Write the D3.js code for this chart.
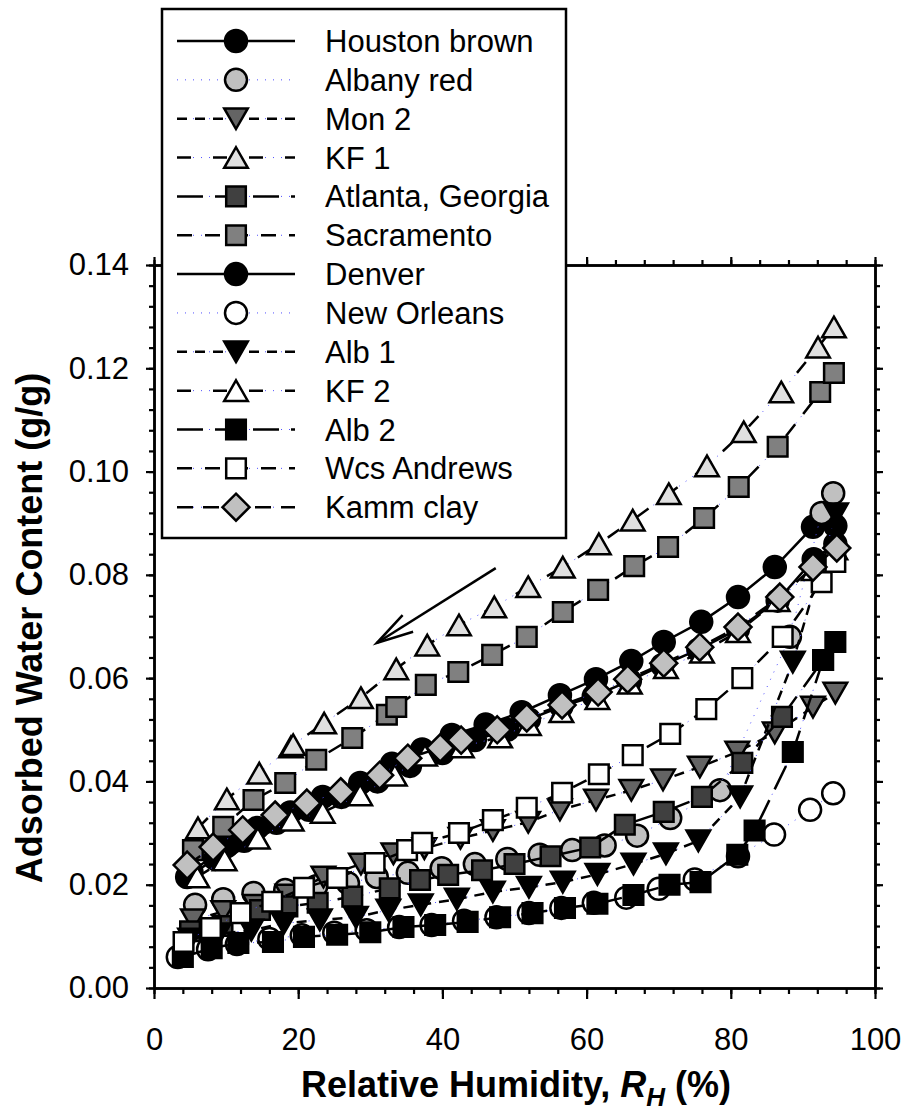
<!DOCTYPE html>
<html><head><meta charset="utf-8">
<script src="https://cdn.jsdelivr.net/npm/d3@7"></script>
<style>body{margin:0;background:#fff}svg{display:block}text{font-family:"Liberation Sans",Arial,sans-serif;fill:#000}</style>
</head><body><svg id="c" width="906" height="1120"></svg>
<script>
// ---------------- data ----------------
const seriesNames = ["Houston brown","Albany red","Mon 2","KF 1","Atlanta, Georgia","Sacramento","Denver","New Orleans","Alb 1","KF 2","Alb 2","Wcs Andrews","Kamm clay"];
const houstonBrown = [[5.2,0.0225],[10.1,0.0275],[14.3,0.031],[18.9,0.034],[23.4,0.037],[28.6,0.0397],[33.0,0.0434],[37.2,0.0462],[41.3,0.049],[46.0,0.051],[51.0,0.0534],[56.3,0.0567],[61.3,0.0598],[66.2,0.0633],[70.7,0.0670],[75.9,0.0709],[81.0,0.0757],[86.1,0.0815],[91.4,0.0893],[94.5,0.0895]];
const albanyRed = [[5.7,0.0161],[9.6,0.0172],[13.8,0.0184],[18.2,0.019],[22.5,0.0197],[26.9,0.0203],[30.9,0.0215],[35.2,0.0223],[39.9,0.0232],[44.5,0.024],[49.0,0.025],[53.5,0.0258],[58.0,0.0267],[62.5,0.0276],[67.0,0.0295],[71.6,0.0329],[78.5,0.0383],[88.2,0.068],[92.6,0.092],[94.2,0.0958]];
const mon2 = [[5.4,0.0132],[9.6,0.0148],[14.0,0.016],[18.5,0.018],[23.5,0.0215],[28.7,0.024],[33.2,0.026],[37.5,0.027],[42.5,0.029],[47.0,0.0305],[51.9,0.0321],[56.3,0.0345],[61.3,0.0364],[66.2,0.0383],[70.6,0.0403],[75.7,0.0428],[80.9,0.0457],[86.1,0.0494],[91.4,0.0544],[94.5,0.0571]];
const kf1 = [[6.1,0.031],[10.1,0.0366],[14.6,0.0416],[19.0,0.0467],[19.3,0.0471],[23.6,0.0513],[28.7,0.0562],[33.6,0.0618],[37.9,0.0664],[42.3,0.0703],[47.2,0.0738],[51.9,0.0777],[56.7,0.0815],[61.7,0.086],[66.4,0.0906],[71.4,0.0957],[76.7,0.1011],[81.8,0.1077],[87.0,0.1154],[92.1,0.1241],[94.3,0.128]];
const atlanta = [[5.0,0.011],[9.5,0.012],[14.7,0.0151],[18.5,0.0158],[22.7,0.0165],[27.5,0.0177],[32.7,0.0193],[36.9,0.0209],[40.8,0.0219],[45.5,0.0228],[50.0,0.024],[55.0,0.0255],[60.5,0.0272],[65.3,0.0316],[70.7,0.0341],[76.0,0.037],[81.6,0.0436],[87.1,0.0525],[92.8,0.0635]];
const sacramento = [[5.4,0.0267],[9.6,0.0312],[13.8,0.0364],[18.2,0.0397],[22.5,0.0442],[27.5,0.0484],[32.3,0.0529],[33.6,0.0544],[37.7,0.0587],[42.2,0.0612],[46.9,0.0645],[51.7,0.068],[56.7,0.0728],[61.6,0.0771],[66.6,0.0817],[71.3,0.0854],[76.3,0.091],[81.1,0.097],[86.5,0.1048],[92.4,0.1154],[94.3,0.1191]];
const denver = [[4.6,0.0215],[8.5,0.025],[12.5,0.0285],[17.0,0.032],[21.5,0.0345],[26.0,0.037],[31.0,0.040],[35.5,0.043],[40.0,0.0455],[44.5,0.048],[49.0,0.050],[52.0,0.052],[56.5,0.0545],[61.0,0.0565],[66.0,0.0595],[70.5,0.0625],[75.5,0.0655],[81.0,0.0695],[86.5,0.075],[91.5,0.083],[94.5,0.086]];
const newOrleans = [[3.3,0.006],[7.5,0.0075],[11.5,0.0085],[16.0,0.0095],[20.5,0.0102],[25.0,0.0107],[29.5,0.0112],[34.0,0.0118],[38.5,0.0122],[43.0,0.013],[47.5,0.0137],[52.0,0.0145],[56.5,0.0155],[61.0,0.0165],[65.5,0.0175],[70.0,0.0192],[75.0,0.021],[81.0,0.0255],[86.0,0.0297],[91.0,0.0345],[94.2,0.0377]];
const alb1 = [[5.0,0.0095],[9.0,0.0105],[13.5,0.0112],[18.0,0.0125],[23.0,0.0132],[28.0,0.0137],[32.5,0.0151],[37.0,0.0161],[42.0,0.0172],[47.0,0.0186],[52.0,0.0195],[56.7,0.0205],[61.5,0.022],[66.5,0.024],[71.0,0.026],[75.5,0.0285],[81.3,0.037],[88.6,0.0631],[94.6,0.0918]];
const kf2 = [[6.0,0.0215],[9.8,0.0248],[14.4,0.029],[19.1,0.0325],[23.4,0.034],[28.6,0.0374],[33.4,0.0412],[37.6,0.0451],[42.7,0.0467],[48.0,0.0486],[52.0,0.051],[56.5,0.0535],[61.5,0.056],[66.0,0.059],[71.0,0.062],[76.0,0.065],[81.0,0.069],[86.5,0.075],[91.5,0.081],[94.5,0.085]];
const alb2 = [[4.0,0.006],[8.0,0.0077],[11.7,0.0087],[16.5,0.0089],[20.8,0.0099],[25.4,0.0103],[30.0,0.0108],[34.6,0.0118],[39.0,0.0122],[43.5,0.0128],[48.0,0.0137],[52.5,0.0145],[57.0,0.0155],[61.5,0.0163],[66.5,0.018],[71.5,0.02],[75.8,0.0205],[80.9,0.0258],[83.3,0.0305],[88.6,0.0457],[92.8,0.0635],[94.5,0.067]];
const wcsAndrews = [[4.1,0.0089],[7.9,0.0116],[12.0,0.0145],[16.4,0.0167],[20.8,0.0194],[25.4,0.0213],[30.6,0.0242],[35.1,0.0267],[37.2,0.0281],[42.3,0.030],[47.0,0.0325],[51.7,0.0349],[56.6,0.0378],[61.7,0.0414],[66.4,0.0451],[71.6,0.0492],[76.6,0.054],[81.6,0.06],[87.2,0.068],[92.6,0.0786],[94.5,0.0825]];
const kammClay = [[4.6,0.0238],[8.2,0.0273],[12.3,0.0306],[16.8,0.0335],[21.2,0.0358],[25.9,0.038],[31.3,0.0412],[35.2,0.0445],[39.7,0.0465],[42.6,0.048],[47.6,0.05],[51.7,0.0523],[56.6,0.0548],[61.6,0.0573],[65.7,0.0598],[70.7,0.0629],[75.7,0.066],[81.0,0.0699],[86.8,0.0757],[91.4,0.0815],[94.7,0.0852]];
const xTicks = [0,20,40,60,80,100];
const yTicks = [0,0.02,0.04,0.06,0.08,0.10,0.12,0.14];
const arrowFrom = [47.4,0.0813];
const arrowTo = [30.9,0.0668];

const seriesData = [houstonBrown,albanyRed,mon2,kf1,atlanta,sacramento,denver,newOrleans,alb1,kf2,alb2,wcsAndrews,kammClay];

// ---------------- styles ----------------
const styles = [
 {shape:"circle",fill:"#000000",dash:null,dots:false},
 {shape:"circle",fill:"#c0c0c0",dash:"none",dots:true},
 {shape:"down",fill:"#646464",dash:"10,8",dots:true},
 {shape:"up",fill:"#e0e0e0",dash:"14,22",dots:true},
 {shape:"square",fill:"#404040",dash:"26,12",dots:true},
 {shape:"square",fill:"#808080",dash:"15,13",dots:true},
 {shape:"circle",fill:"#000000",dash:null,dots:false},
 {shape:"circle",fill:"#ffffff",dash:"none",dots:true},
 {shape:"down",fill:"#000000",dash:"10,8",dots:true},
 {shape:"up",fill:"#ffffff",dash:"14,22",dots:true},
 {shape:"square",fill:"#000000",dash:"26,12",dots:true},
 {shape:"square",fill:"#ffffff",dash:"15,13",dots:true},
 {shape:"diamond",fill:"#c0c0c0",dash:"16,10",dots:true}
];

function shapePath(s){
  switch(s){
    case "circle": return d3.symbol().type(d3.symbolCircle).size(Math.PI*11*11)();
    case "square": { const h=9.8; return `M${-h},${-h}H${h}V${h}H${-h}Z`; }
    case "up": { const w=11.8,h=10.3; return `M0,${-h}L${w},${h}L${-w},${h}Z`; }
    case "down": { const w=11.8,h=10.3; return `M0,${h}L${w},${-h}L${-w},${-h}Z`; }
    case "diamond": { const r=13.5; return `M0,${-r}L${r},0L0,${r}L${-r},0Z`; }
  }
}

const x = d3.scaleLinear().domain([0,100]).range([154,875]);
const y = d3.scaleLinear().domain([0,0.14]).range([988,265]);
const svg = d3.select("#c");
svg.append("rect").attr("width",906).attr("height",1120).attr("fill","#fff");

// ---------------- axes / frame ----------------
const minorX = d3.range(0,100.001,4);
const minorY = d3.range(0,0.14001,0.004);
function styleAxis(g){
  g.selectAll("path.domain").attr("stroke","#000").attr("stroke-width",2.5);
  g.selectAll(".tick line").attr("stroke","#000").attr("stroke-width",2.2);
}
const gAx = svg.append("g");
gAx.append("g").attr("transform","translate(0,988)")
  .call(d3.axisBottom(x).tickValues(minorX).tickSize(6).tickSizeOuter(0).tickFormat(""))
  .call(styleAxis);
gAx.append("g").attr("transform","translate(0,988)")
  .call(d3.axisBottom(x).tickValues(xTicks).tickSize(11).tickSizeOuter(0).tickPadding(29).tickFormat(d3.format("d")))
  .call(styleAxis)
  .call(g=>g.selectAll("text").attr("font-size",31).attr("font-family","Liberation Sans, Arial, sans-serif").attr("dy","0.71em"));
gAx.append("g").attr("transform","translate(875,0)")
  .call(d3.axisRight(y).tickValues(minorY).tickSize(5).tickSizeOuter(0).tickFormat(""))
  .call(styleAxis);
gAx.append("g").attr("transform","translate(875,0)")
  .call(d3.axisRight(y).tickValues(yTicks).tickSize(8).tickSizeOuter(0).tickFormat(""))
  .call(styleAxis);
gAx.append("g").attr("transform","translate(0,265)")
  .call(d3.axisTop(x).tickValues(minorX).tickSize(5).tickSizeOuter(0).tickFormat(""))
  .call(styleAxis);
gAx.append("g").attr("transform","translate(0,265)")
  .call(d3.axisTop(x).tickValues(xTicks).tickSize(8).tickSizeOuter(0).tickFormat(""))
  .call(styleAxis);
gAx.append("g").attr("transform","translate(154,0)")
  .call(d3.axisLeft(y).tickValues(minorY).tickSize(5).tickSizeOuter(0).tickFormat(""))
  .call(styleAxis);
gAx.append("g").attr("transform","translate(154,0)")
  .call(d3.axisLeft(y).tickValues(yTicks).tickSize(8).tickSizeOuter(0).tickPadding(17).tickFormat(d3.format(".2f")))
  .call(styleAxis)
  .call(g=>g.selectAll("text").attr("font-size",31).attr("font-family","Liberation Sans, Arial, sans-serif"));

// ---------------- series ----------------
const line = d3.line().x(d=>x(d[0])).y(d=>y(d[1]));
const gS = svg.append("g");
seriesData.forEach((data,i)=>{
  const st = styles[i];
  const g = gS.append("g");
  if(st.dots){
    g.append("path").attr("d",line(data)).attr("fill","none")
     .attr("stroke","#5050ff").attr("stroke-width",1).attr("stroke-dasharray","1,7");
  }
  if(st.dash!=="none"){
    g.append("path").attr("d",line(data)).attr("fill","none")
     .attr("stroke","#000").attr("stroke-width",2.5)
     .attr("stroke-dasharray",st.dash);
  }
  g.selectAll("path.m").data(data).enter().append("path").attr("class","m")
   .attr("transform",d=>`translate(${x(d[0])},${y(d[1])})`)
   .attr("d",shapePath(st.shape)).attr("fill",st.fill)
   .attr("stroke","#000").attr("stroke-width",2.5).attr("stroke-linejoin","miter");
});

// ---------------- arrow ----------------
(function(){
  const x1=x(arrowFrom[0]),y1=y(arrowFrom[1]),x2=x(arrowTo[0]),y2=y(arrowTo[1]);
  const ang=Math.atan2(y1-y2,x1-x2), L=38, sp=15*Math.PI/180;
  const ga=svg.append("g").attr("stroke","#000").attr("stroke-width",2.5).attr("fill","none");
  ga.append("line").attr("x1",x1).attr("y1",y1).attr("x2",x2).attr("y2",y2);
  ga.append("path").attr("d",`M${x2+L*Math.cos(ang-sp)},${y2+L*Math.sin(ang-sp)}L${x2},${y2}L${x2+L*Math.cos(ang+sp)},${y2+L*Math.sin(ang+sp)}`);
})();

// ---------------- legend ----------------
const lg = svg.append("g");
lg.append("rect").attr("x",162).attr("y",9).attr("width",404).attr("height",529)
  .attr("fill","#fff").attr("stroke","#000").attr("stroke-width",2.5);
seriesNames.forEach((nm,i)=>{
  const st=styles[i], ry=41+i*38.85;
  const g=lg.append("g");
  if(st.dots){
    g.append("line").attr("x1",177).attr("x2",295).attr("y1",ry).attr("y2",ry)
     .attr("stroke","#5050ff").attr("stroke-width",1).attr("stroke-dasharray","1,7");
  }
  if(st.dash!=="none"){
    g.append("line").attr("x1",177).attr("x2",295).attr("y1",ry).attr("y2",ry)
     .attr("stroke","#000").attr("stroke-width",2.5).attr("stroke-dasharray",st.dash);
  }
  g.append("path").attr("transform",`translate(236,${ry})`).attr("d",shapePath(st.shape))
   .attr("fill",st.fill).attr("stroke","#000").attr("stroke-width",2.5);
  g.append("text").attr("x",325).attr("y",ry+11).attr("font-size",31).text(nm);
});

// ---------------- titles ----------------
svg.append("text").attr("transform","translate(42,628) rotate(-90)").attr("text-anchor","middle")
  .attr("font-size",36).attr("font-weight","bold").text("Adsorbed Water Content (g/g)");
const xt = svg.append("text").attr("x",516).attr("y",1097).attr("text-anchor","middle")
  .attr("font-size",36).attr("font-weight","bold");
xt.append("tspan").text("Relative Humidity, ");
xt.append("tspan").attr("font-style","italic").text("R");
xt.append("tspan").attr("font-style","italic").attr("font-size",26).attr("dy",9).text("H");
xt.append("tspan").attr("dy",-9).text(" (%)");
</script>
</body></html>
